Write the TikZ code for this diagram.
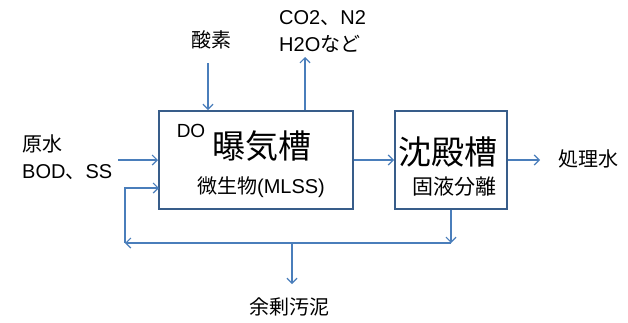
\documentclass[tikz,border=0pt]{standalone}
\usepackage{fontspec}
\setmainfont{Liberation Sans}
\newfontfamily\jpfont{Noto Sans CJK JP}
\newcommand{\jp}[1]{{\jpfont #1}}
\usetikzlibrary{arrows.meta}
\definecolor{flowblue}{HTML}{4A7EBB}
\definecolor{boxblue}{HTML}{385D8A}
\tikzset{
  tank/.style={draw=boxblue, line width=2pt},
  flow/.style={draw=flowblue, line width=1.2pt, -{Straight Barb[length=5pt,width=10pt]}},
  txt/.style={inner sep=0pt, font=\fontsize{20}{27}\selectfont, align=left}
}

\begin{document}
\begin{tikzpicture}[x=1pt,y=-1pt]
\useasboundingbox (0,0) rectangle (628,322);
% tanks
\node[tank, minimum width=194pt, minimum height=98pt] (aer) at (256,160) {};
\node[tank, minimum width=112pt, minimum height=98pt] (sed) at (451,160) {};
\node[inner sep=0pt, font=\fontsize{33}{36}\selectfont] (aername) at (262,146) {\jp{曝気槽}};
\node[inner sep=0pt, font=\fontsize{19}{22}\selectfont] (do) at (191,131) {DO};
\node[inner sep=0pt, font=\fontsize{20}{24}\selectfont] (mlss) at (261,187) {\jp{微生物}(MLSS)};
\node[inner sep=0pt, font=\fontsize{33}{36}\selectfont] (sedname) at (448,152) {\jp{沈殿槽}};
\node[inner sep=0pt, font=\fontsize{21}{24}\selectfont] (solid) at (454,187) {\jp{固液分離}};

% labels
\node[txt, anchor=west] (raw) at (22,157) {\jp{原水}\\BOD\jp{、}SS};
\node[txt] (oxy) at (211,40) {\jp{酸素}};
\node[txt, anchor=west] (gasname) at (279,32) {CO2\jp{、}N2\\H2O\jp{など}};
\node[txt, anchor=west] (treated) at (558,159) {\jp{処理水}};
\node[txt] (sludge) at (289,307) {\jp{余剰汚泥}};

% coordinates
\coordinate (in) at (118,160);
\coordinate (o2) at (208,63);
\coordinate (gas) at (305,57);
\coordinate (out) at (540,160);
\coordinate (split) at (451,243);
\coordinate (ret) at (125,243);
\coordinate (retin) at (159,188);
\coordinate (exc) at (292,243);
\coordinate (excend) at (292,284);

\path[flow] (in) -- (aer.west);
\path[flow] (o2) -- (o2 |- aer.north);
\path[flow] (gas |- aer.north) -- (gas);
\path[flow] (aer.east) -- (sed.west);
\path[flow] (sed.east) -- (out);
\path[flow] (split |- sed.south) -- (split);
\path[flow] (split) -- (ret);
\path[flow] (ret) |- (retin);
\path[flow] (exc) -- (excend);
\end{tikzpicture}
\end{document}
